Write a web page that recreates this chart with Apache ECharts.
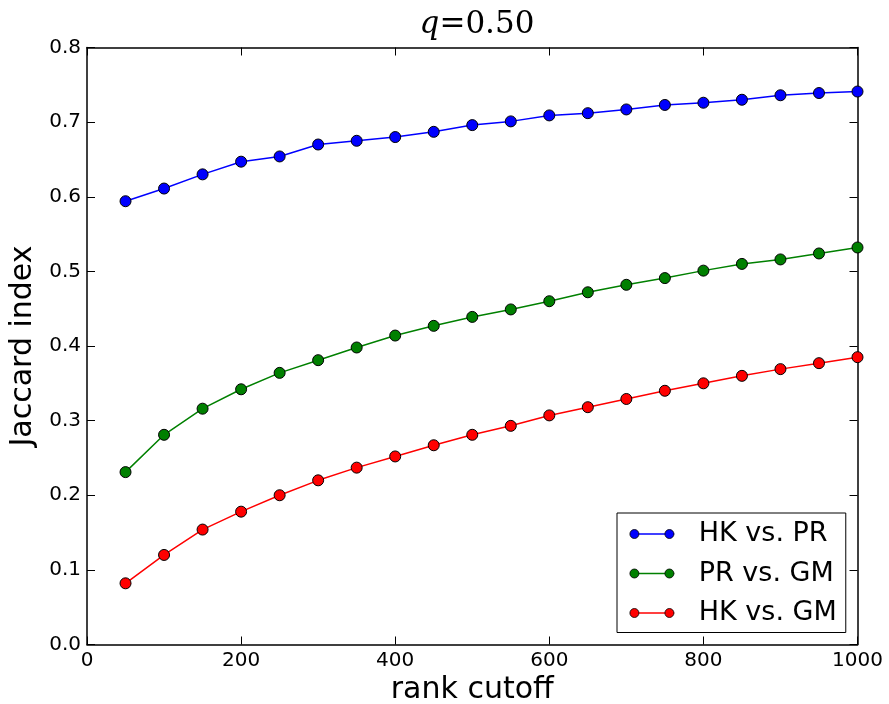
<!DOCTYPE html>
<html>
<head>
<meta charset="utf-8">
<script src="https://cdn.jsdelivr.net/npm/echarts@6/dist/echarts.min.js"></script>
<style>html,body{margin:0;padding:0;background:#fff}#c{width:889px;height:704px}</style>
</head>
<body>
<div id="c"></div>
<script>
const rankCutoff = [50,100,150,200,250,300,350,400,450,500,550,600,650,700,750,800,850,900,950,1000];
const hkVsPr = [0.594,0.611,0.630,0.647,0.654,0.670,0.675,0.680,0.687,0.696,0.701,0.709,0.712,0.717,0.723,0.726,0.730,0.736,0.739,0.741];
const prVsGm = [0.231,0.281,0.316,0.342,0.364,0.381,0.398,0.414,0.427,0.439,0.449,0.460,0.472,0.482,0.491,0.501,0.510,0.516,0.524,0.532];
const hkVsGm = [0.082,0.120,0.154,0.178,0.200,0.220,0.237,0.252,0.267,0.281,0.293,0.307,0.318,0.329,0.340,0.350,0.360,0.369,0.377,0.385];
const seriesNames = ['HK vs. PR','PR vs. GM','HK vs. GM'];
const seriesColors = ['#0000ff','#008000','#ff0000'];
const seriesValues = [hkVsPr, prVsGm, hkVsGm];

const chart = echarts.init(document.getElementById('c'), null, {renderer:'canvas'});
const font = 'DejaVu Sans';
const axisLine = {show:true, onZero:false, lineStyle:{color:'#000', width:1.5}};
const tick = {show:true, inside:true, length:8, lineStyle:{color:'#000', width:1}};
const legendBase = {
  orient:'vertical', left:617, top:513,
  padding:[7,9,5.5,12.5], itemGap:11.5,
  itemWidth:44, itemHeight:9,
  selectedMode:false,
  data:seriesNames
};
const legendText = {fontFamily:font, fontSize:27, lineHeight:28, padding:[0,0,0,19.5]};
const twoDots = 'path://M0,4.5a4.5,4.5 0 1,0 9,0a4.5,4.5 0 1,0 -9,0ZM35,4.5a4.5,4.5 0 1,0 9,0a4.5,4.5 0 1,0 -9,0Z';
const option = {
  animation:false,
  backgroundColor:'#fff',
  title:{
    text:'{i|q}{n|=0.50}',
    left:472, top:4, textAlign:'center',
    textStyle:{fontWeight:'normal', rich:{
      i:{fontFamily:'DejaVu Serif', fontStyle:'italic', fontWeight:'normal', fontSize:31, color:'#000'},
      n:{fontFamily:'DejaVu Serif', fontWeight:'normal', fontSize:31, color:'#000'}
    }}
  },
  grid:{left:87, right:31.5, top:47.5, bottom:59.5, containLabel:false, outerBoundsMode:'none'},
  legend:[
    Object.assign({}, legendBase, {
      borderColor:'#000', borderWidth:1, backgroundColor:'#fff',
      itemStyle:{color:'rgba(0,0,0,0)', borderColor:'rgba(0,0,0,0)', borderWidth:0, opacity:0},
      lineStyle:{width:1.5},
      textStyle:Object.assign({color:'#000'}, legendText)
    }),
    Object.assign({}, legendBase, {
      z:10, borderWidth:0, backgroundColor:'rgba(0,0,0,0)',
      icon:twoDots,
      itemStyle:{borderColor:'#000', borderWidth:0.8},
      textStyle:Object.assign({color:'rgba(0,0,0,0)'}, legendText)
    })
  ],
  xAxis:[{
    type:'value', min:0, max:1000, interval:200,
    name:'rank cutoff', nameLocation:'middle', nameGap:28,
    nameTextStyle:{fontFamily:font, fontSize:30, color:'#000'},
    axisLine:axisLine, axisTick:tick,
    axisLabel:{fontFamily:font, fontSize:20, color:'#000', margin:6, formatter:v=>String(v)},
    splitLine:{show:false}
  },{
    type:'value', position:'top', min:0, max:1000, interval:200,
    axisLine:axisLine, axisTick:tick, axisLabel:{show:false}, splitLine:{show:false}
  }],
  yAxis:[{
    type:'value', min:0, max:0.8, interval:0.1,
    name:'Jaccard index', nameLocation:'middle', nameGap:44,
    nameTextStyle:{fontFamily:font, fontSize:30, color:'#000'},
    axisLine:axisLine, axisTick:tick,
    axisLabel:{fontFamily:font, fontSize:20, color:'#000', margin:6, formatter:v=>v.toFixed(1)},
    splitLine:{show:false}
  },{
    type:'value', position:'right', min:0, max:0.8, interval:0.1,
    axisLine:axisLine, axisTick:tick, axisLabel:{show:false}, splitLine:{show:false}
  }],
  series: seriesNames.map((n,k)=>({
    name:n, type:'line', xAxisIndex:0, yAxisIndex:0,
    data: rankCutoff.map((x,i)=>[x, seriesValues[k][i]]),
    symbol:'circle', symbolSize:11,
    lineStyle:{color:seriesColors[k], width:1.5},
    itemStyle:{color:seriesColors[k], borderColor:'#000', borderWidth:1},
    z: 3 - k
  }))
};
chart.setOption(option);
</script>
</body>
</html>
